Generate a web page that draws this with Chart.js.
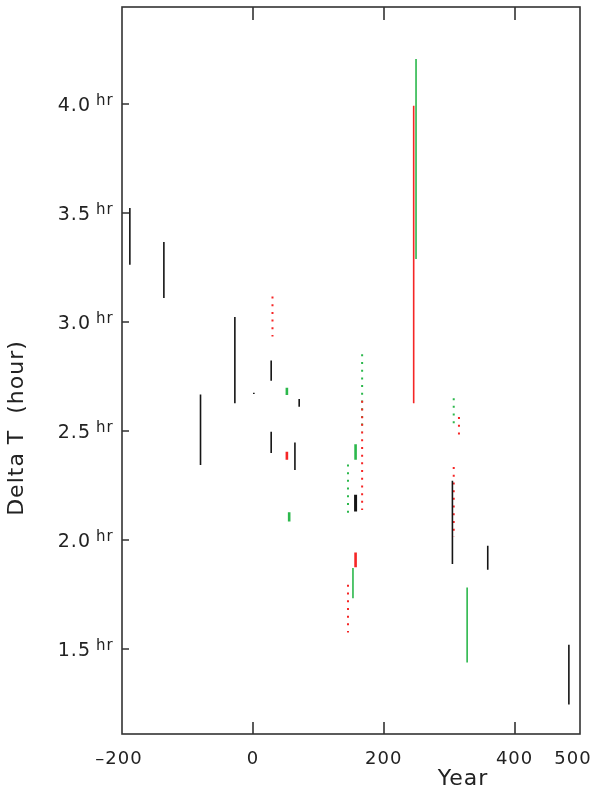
<!DOCTYPE html>
<html>
<head>
<meta charset="utf-8">
<title>Delta T</title>
<script src="https://cdn.jsdelivr.net/npm/chart.js@4/dist/chart.umd.min.js"></script>
<style>
  html, body { margin: 0; padding: 0; background: #fff; }
  canvas { display: block; }
</style>
</head>
<body>
<canvas id="c" width="596" height="796"></canvas>
<script>
// Delta T estimates (hours) by year: each entry is [year, lower bound, upper bound]
const blackRanges = [
  [-188, 3.263, 3.523],
  [-136, 3.110, 3.367],
  [-80, 2.344, 2.668],
  [-27.5, 2.628, 3.023],
  [1.5, 2.670, 2.676],
  [28, 2.731, 2.824],
  [28, 2.399, 2.497],
  [64.3, 2.321, 2.448],
  [70.8, 2.612, 2.647],
  [305, 1.890, 2.272],
  [359, 1.864, 1.974],
  [483, 1.246, 1.520]
];
const blackBoldRanges = [
  [157, 2.131, 2.208]
];
const redRanges = [
  [245.8, 2.628, 3.992]
];
const redBoldRanges = [
  [52, 2.368, 2.405],
  [157, 1.876, 1.943]
];
const greenRanges = [
  [249.4, 3.289, 4.206],
  [153, 1.734, 1.872],
  [327.5, 1.439, 1.783]
];
const greenBoldRanges = [
  [52, 2.665, 2.699],
  [55.5, 2.085, 2.128],
  [157, 2.368, 2.440]
];
const redDottedRanges = [
  [30, 2.934, 3.117],
  [145.4, 1.576, 1.795],
  [167, 2.138, 2.639],
  [307, 2.017, 2.335],
  [315, 2.459, 2.564]
];
const greenDottedRanges = [
  [145.4, 2.101, 2.347],
  [167, 2.498, 2.852],
  [307, 2.511, 2.651]
];

// Axis extents: 4000 s to 16000 s expressed in hours
const yearMin = -200, yearMax = 500;
const hourMin = 4000 / 3600, hourMax = 16000 / 3600;
const xTickLabels = [-200, 0, 200, 400, 500];
const xTickMarks = [0, 200, 400];
const yTickValues = [1.5, 2.0, 2.5, 3.0, 3.5, 4.0];

const RED = '#f52626';
const GREEN = '#2cb84c';
const BLACK = '#151515';

const groups = [
  { ranges: blackRanges, color: BLACK, width: 1.6, dash: [] },
  { ranges: blackBoldRanges, color: BLACK, width: 3, dash: [] },
  { ranges: redRanges, color: RED, width: 1.6, dash: [] },
  { ranges: redBoldRanges, color: RED, width: 2.6, dash: [] },
  { ranges: greenRanges, color: GREEN, width: 1.6, dash: [] },
  { ranges: greenBoldRanges, color: GREEN, width: 2.6, dash: [] },
  { ranges: redDottedRanges, color: RED, width: 2, dash: [2, 5.7] },
  { ranges: greenDottedRanges, color: GREEN, width: 2, dash: [2, 5.7] }
];

const datasets = [];
groups.forEach(g => {
  g.ranges.forEach(([year, lo, hi]) => {
    datasets.push({
      data: [{ x: year, y: hi }, { x: year, y: lo }],
      borderColor: g.color,
      borderWidth: g.width,
      borderDash: g.dash,
      borderCapStyle: 'butt',
      pointRadius: 0,
      fill: false,
      tension: 0
    });
  });
});

const FONT = '"DejaVu Sans", sans-serif';

// Frame, inward ticks, tick labels and axis titles
const framePlugin = {
  id: 'frame',
  afterDatasetsDraw(chart) {
    const { ctx, chartArea: a, scales: { x, y } } = chart;
    ctx.save();
    ctx.strokeStyle = '#333';
    ctx.lineWidth = 1.6;
    ctx.strokeRect(a.left, a.top, a.right - a.left, a.bottom - a.top);

    ctx.beginPath();
    xTickMarks.forEach(v => {
      const px = Math.round(x.getPixelForValue(v));
      ctx.moveTo(px, a.bottom); ctx.lineTo(px, a.bottom - 12);
      ctx.moveTo(px, a.top); ctx.lineTo(px, a.top + 13);
    });
    yTickValues.forEach(v => {
      const py = Math.round(y.getPixelForValue(v));
      ctx.moveTo(a.left, py); ctx.lineTo(a.left + 7, py);
    });
    ctx.stroke();

    ctx.fillStyle = '#222';
    // y tick labels with superscript unit
    yTickValues.forEach(v => {
      const py = y.getPixelForValue(v);
      ctx.font = '19px ' + FONT;
      ctx.textAlign = 'right';
      ctx.textBaseline = 'middle';
      ctx.letterSpacing = '1px';
      ctx.fillText(v.toFixed(1), 91, py + 2);
      ctx.font = '15px ' + FONT;
      ctx.textAlign = 'left';
      ctx.textBaseline = 'alphabetic';
      ctx.fillText('hr', 96, py + 1);
    });

    // x tick labels
    ctx.font = '18px ' + FONT;
    ctx.letterSpacing = '1px';
    ctx.textAlign = 'center';
    ctx.textBaseline = 'middle';
    xTickLabels.forEach(v => {
      let px = x.getPixelForValue(v);
      if (v === yearMin) px -= 3;
      if (v === yearMax) px -= 7;
      const label = v < 0 ? '\u2013' + Math.abs(v) : String(v);
      ctx.fillText(label, px, 759);
    });

    // axis titles
    ctx.font = '22px ' + FONT;
    ctx.letterSpacing = '1px';
    ctx.fillText('Year', 463, 779);
    ctx.save();
    ctx.translate(17, 428);
    ctx.rotate(-Math.PI / 2);
    ctx.fillText('Delta T  (hour)', 0, 0);
    ctx.restore();
    ctx.restore();
  }
};

new Chart(document.getElementById('c'), {
  type: 'line',
  data: { datasets },
  options: {
    responsive: false,
    animation: false,
    devicePixelRatio: 1,
    layout: { padding: { left: 122, top: 7, right: 16, bottom: 62 } },
    plugins: { legend: { display: false }, tooltip: { enabled: false } },
    scales: {
      x: { type: 'linear', min: yearMin, max: yearMax, display: false },
      y: { type: 'linear', min: hourMin, max: hourMax, display: false }
    }
  },
  plugins: [framePlugin]
});
</script>
</body>
</html>
